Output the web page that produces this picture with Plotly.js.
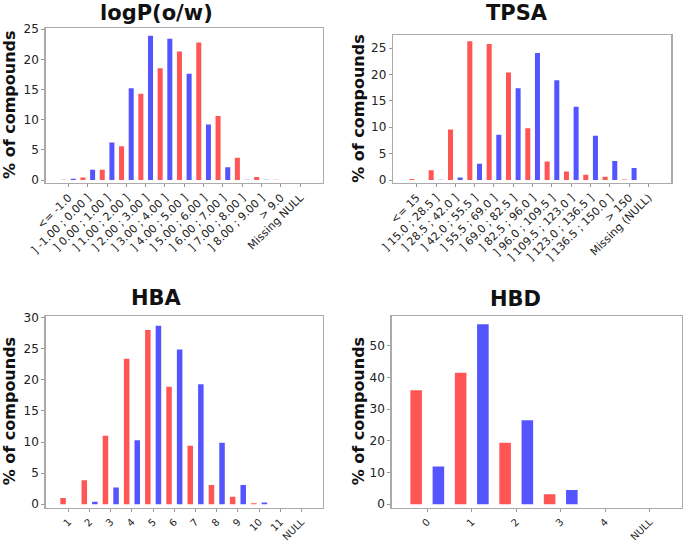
<!DOCTYPE html>
<html>
<head>
<meta charset="utf-8">
<script src="https://cdn.plot.ly/plotly-3.0.1.min.js"></script>
<style>html,body{margin:0;padding:0;background:#fff;}#chart{width:685px;height:545px;}</style>
</head>
<body>
<div id="chart"></div>
<script>
// ---- data ----
const logpCats = ["<= -1.0", "] -1.00 ; 0.00 ]", "] 0.00 ; 1.00 ]", "] 1.00 ; 2.00 ]", "] 2.00 ; 3.00 ]",
  "] 3.00 ; 4.00 ]", "] 4.00 ; 5.00 ]", "] 5.00 ; 6.00 ]", "] 6.00 ; 7.00 ]", "] 7.00 ; 8.00 ]",
  "] 8.00 ; 9.00 ]", "> 9.0", "Missing NULL"];
const logpRed  = [0.05, 0.4, 1.7, 5.6, 14.3, 18.5, 21.3, 22.8, 10.6, 3.7, 0.5, 0.05, 0];
const logpBlue = [0.2, 1.7, 6.2, 15.2, 23.9, 23.4, 17.6, 9.2, 2.1, 0.05, 0.03, 0, 0];

const tpsaCats = ["<= 15", "] 15.0 ; 28.5 ]", "] 28.5 ; 42.0 ]", "] 42.0 ; 55.5 ]", "] 55.5 ; 69.0 ]",
  "] 69.0 ; 82.5 ]", "] 82.5 ; 96.0 ]", "] 96.0 ; 109.5 ]", "] 109.5 ; 123.0 ]", "] 123.0 ; 136.5 ]",
  "] 136.5 ; 150.0 ]", "> 150", "Missing (NULL)"];
const tpsaRed  = [0.2, 1.85, 9.6, 26.3, 25.8, 20.4, 9.8, 3.5, 1.6, 1.0, 0.6, 0.1, 0];
const tpsaBlue = [0, 0.05, 0.5, 3.1, 8.6, 17.4, 24.1, 18.9, 13.9, 8.4, 3.6, 2.3, 0];

const hbaCats = ["1", "2", "3", "4", "5", "6", "7", "8", "9", "10", "11", "NULL"];
const hbaRed  = [1.0, 3.85, 11.0, 23.4, 28.0, 18.9, 9.4, 3.1, 1.2, 0.15, 0, 0];
const hbaBlue = [0, 0.4, 2.7, 10.3, 28.7, 24.9, 19.3, 9.9, 3.1, 0.3, 0, 0];

const hbdCats = ["0", "1", "2", "3", "4", "NULL"];
const hbdRed  = [36.0, 41.5, 19.4, 3.2, 0, 0];
const hbdBlue = [11.9, 56.8, 26.5, 4.5, 0, 0];

const panelTitles = ["logP(o/w)", "TPSA", "HBA", "HBD"];
const yTitle = "% of compounds";

// ---- styling ----
const RED = "#ff5555", BLUE = "#5555ff";
const W = 685, H = 545;
const FONT = "DejaVu Sans";

function px(x) { return x / W; }
function py(y) { return 1 - y / H; }

const panels = [
  {cats: logpCats, red: logpRed, blue: logpBlue, x0: 45.7, x1: 322.7, y0: 28.3, y1: 182.5, xr: [-1.18, 13.17], yr: [-0.41, 25.14], dt: 5, xfs: 11},
  {cats: tpsaCats, red: tpsaRed, blue: tpsaBlue, x0: 393.3, x1: 671, y0: 35, y1: 182.5, xr: [-1.21, 13.16], yr: [-0.47, 27.5], dt: 5, xfs: 11},
  {cats: hbaCats, red: hbaRed, blue: hbaBlue, x0: 45.7, x1: 322.7, y0: 316, y1: 507.7, xr: [-1.07, 12.0], yr: [-0.55, 30.27], dt: 5, xfs: 10},
  {cats: hbdCats, red: hbdRed, blue: hbdBlue, x0: 391.7, x1: 681.7, y0: 316, y1: 507.7, xr: [-0.8, 5.72], yr: [-1.08, 59.4], dt: 10, xfs: 10}
];
const titlePos = [[156.7, 12.7], [517, 13], [156.7, 298.3], [515, 299]];
const yTitleX = [9.5, 359, 9.5, 358.5];

const traces = [];
const layout = {
  width: W, height: H,
  margin: {l: 0, r: 0, t: 0, b: 0},
  paper_bgcolor: "#fff", plot_bgcolor: "#fff",
  showlegend: false,
  barmode: "group", bargap: 0, bargroupgap: 0.48,
  font: {family: FONT, color: "#222"},
  annotations: []
};

panels.forEach((p, i) => {
  const s = i === 0 ? "" : String(i + 1);
  traces.push({type: "bar", x: p.cats, y: p.red, marker: {color: RED}, xaxis: "x" + s, yaxis: "y" + s, hoverinfo: "skip"});
  traces.push({type: "bar", x: p.cats, y: p.blue, marker: {color: BLUE}, xaxis: "x" + s, yaxis: "y" + s, hoverinfo: "skip"});
  layout["xaxis" + s] = {
    domain: [px(p.x0), px(p.x1)], anchor: "y" + s, type: "category", range: p.xr,
    showline: true, mirror: true, linecolor: "#aaaaaa", linewidth: 1.5,
    ticks: "outside", ticklen: 3, tickcolor: "#999", tickwidth: 1,
    tickangle: -45, tickfont: {family: FONT, size: p.xfs, color: "#222"},
    showgrid: false, zeroline: false, fixedrange: true
  };
  layout["yaxis" + s] = {
    domain: [py(p.y1), py(p.y0)], anchor: "x" + s, range: p.yr, dtick: p.dt, tick0: 0,
    showline: true, mirror: true, linecolor: "#aaaaaa", linewidth: 1.5,
    ticks: "outside", ticklen: 3, tickcolor: "#999", tickwidth: 1,
    tickfont: {family: FONT, size: 12, color: "#222"},
    showgrid: false, zeroline: false, fixedrange: true
  };
  layout.annotations.push({
    text: panelTitles[i], xref: "paper", yref: "paper",
    x: px(titlePos[i][0]), y: py(titlePos[i][1]), xanchor: "center", yanchor: "middle",
    showarrow: false, font: {family: FONT, size: 21, color: "#111", weight: "bold"}
  });
  layout.annotations.push({
    text: yTitle, xref: "paper", yref: "paper", textangle: -90,
    x: px(yTitleX[i]), y: py((p.y0 + p.y1) / 2), xanchor: "center", yanchor: "middle",
    showarrow: false, font: {family: FONT, size: 16, color: "#111", weight: "bold"}
  });
});

Plotly.newPlot("chart", traces, layout, {staticPlot: true, displayModeBar: false});
</script>
</body>
</html>
